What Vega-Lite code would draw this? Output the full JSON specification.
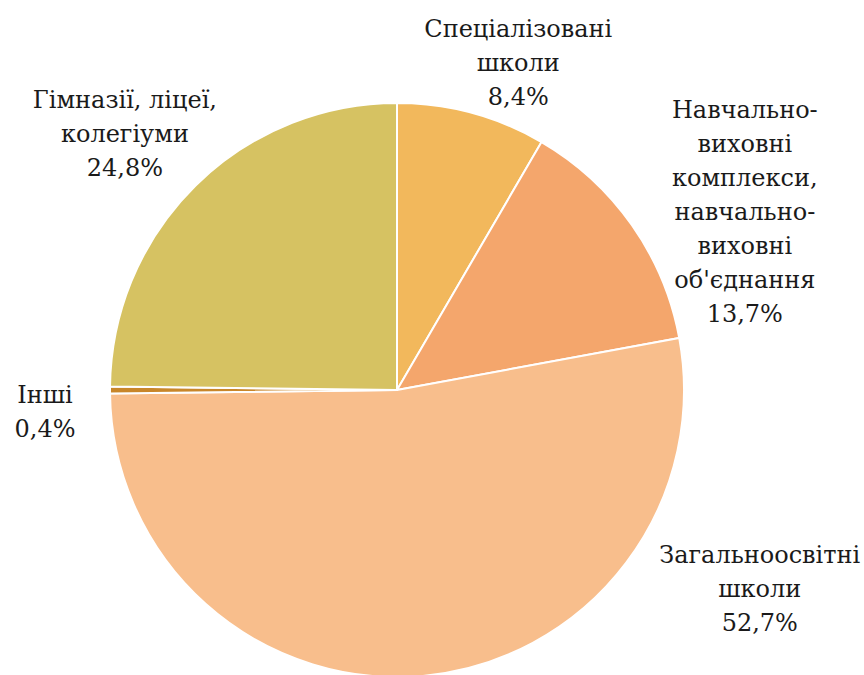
{
  "$schema": "https://vega.github.io/schema/vega-lite/v6.json",
  "width": 794,
  "height": 570,
  "autosize": {"type": "none"},
  "padding": {"left": 0, "top": 105, "right": 70, "bottom": 0},
  "background": "white",
  "config": {"view": {"stroke": null}},
  "data": {
    "values": [
      {"cat": "Спеціалізовані школи", "order": 1, "value": 8.4, "label": "Спеціалізовані\nшколи\n8,4%"},
      {"cat": "Навчально-виховні комплекси", "order": 2, "value": 13.7, "label": "Навчально-\nвиховні\nкомплекси,\nнавчально-\nвиховні\nоб'єднання\n13,7%"},
      {"cat": "Загальноосвітні школи", "order": 3, "value": 52.7, "label": "Загальноосвітні\nшколи\n52,7%"},
      {"cat": "Інші", "order": 4, "value": 0.4, "label": "Інші\n0,4%"},
      {"cat": "Гімназії, ліцеї, колегіуми", "order": 5, "value": 24.8, "label": "Гімназії,  ліцеї,\nколегіуми\n24,8%"}
    ]
  },
  "encoding": {
    "theta": {"field": "value", "type": "quantitative", "stack": true, "scale": {"domain": [0, 100]}},
    "order": {"field": "order", "type": "quantitative"}
  },
  "layer": [
    {
      "mark": {"type": "arc", "outerRadius": 287, "stroke": "white", "strokeWidth": 2},
      "encoding": {
        "color": {
          "field": "cat",
          "type": "nominal",
          "legend": null,
          "scale": {
            "domain": ["Спеціалізовані школи", "Навчально-виховні комплекси", "Загальноосвітні школи", "Інші", "Гімназії, ліцеї, колегіуми"],
            "range": ["#F2B85C", "#F4A66C", "#F8BE8C", "#C8862A", "#D6C262"]
          }
        }
      }
    },
    {
      "mark": {"type": "text", "radius": 346, "dx": 31, "dy": -26, "font": "DejaVu Serif", "fontSize": 24, "lineHeight": 34, "align": "center", "baseline": "middle", "lineBreak": "\n", "color": "#1a1a1a"},
      "encoding": {"text": {"condition": {"test": "datum.order === 1", "field": "label"}, "value": ""}}
    },
    {
      "mark": {"type": "text", "radius": 386, "dx": 32, "dy": -57, "font": "DejaVu Serif", "fontSize": 24, "lineHeight": 34, "align": "center", "baseline": "middle", "lineBreak": "\n", "color": "#1a1a1a"},
      "encoding": {"text": {"condition": {"test": "datum.order === 2", "field": "label"}, "value": ""}}
    },
    {
      "mark": {"type": "text", "radius": 234, "dx": 340, "dy": -67, "font": "DejaVu Serif", "fontSize": 24, "lineHeight": 34, "align": "center", "baseline": "middle", "lineBreak": "\n", "color": "#1a1a1a"},
      "encoding": {"text": {"condition": {"test": "datum.order === 3", "field": "label"}, "value": ""}}
    },
    {
      "mark": {"type": "text", "radius": 352, "dx": 0, "dy": 6, "font": "DejaVu Serif", "fontSize": 24, "lineHeight": 34, "align": "center", "baseline": "middle", "lineBreak": "\n", "color": "#1a1a1a"},
      "encoding": {"text": {"condition": {"test": "datum.order === 4", "field": "label"}, "value": ""}}
    },
    {
      "mark": {"type": "text", "radius": 373, "dx": -10, "dy": -24, "font": "DejaVu Serif", "fontSize": 24, "lineHeight": 34, "align": "center", "baseline": "middle", "lineBreak": "\n", "color": "#1a1a1a"},
      "encoding": {"text": {"condition": {"test": "datum.order === 5", "field": "label"}, "value": ""}}
    }
  ]
}
